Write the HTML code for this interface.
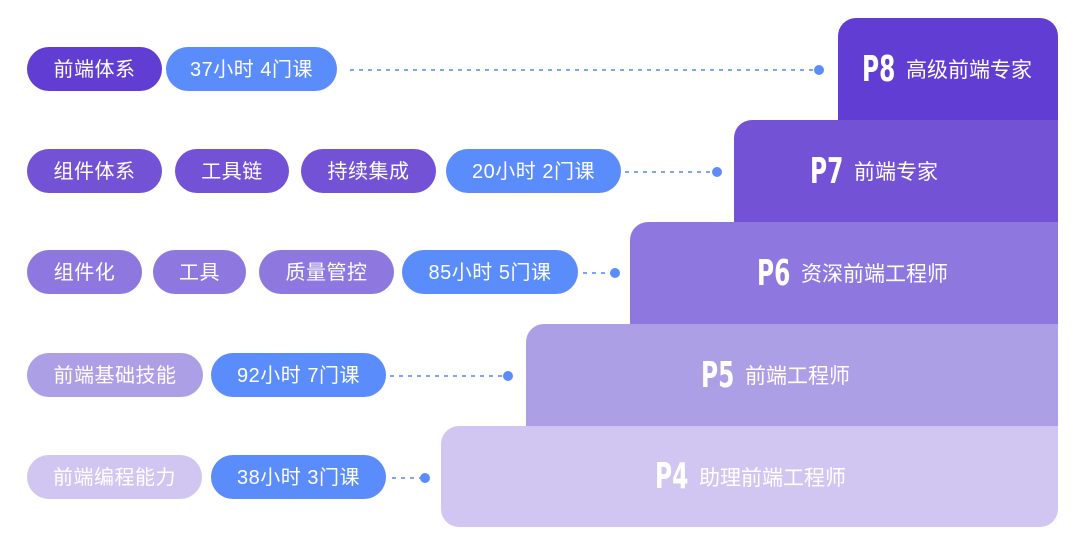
<!DOCTYPE html>
<html><head><meta charset="utf-8"><style>
body{margin:0;width:1080px;height:553px;background:#fff;position:relative;overflow:hidden;font-family:"Liberation Sans","Noto Sans CJK SC",sans-serif}
.p{position:absolute;height:44px;border-radius:22px;color:#fff;font-size:20px;display:flex;align-items:center;justify-content:center;letter-spacing:0.5px;padding-bottom:4px;box-sizing:border-box}
.b{background:#5b8cfb}
.l{position:absolute;height:2px;margin-top:-1px;background:repeating-linear-gradient(90deg,#7fa3f7 0 4px,transparent 4px 9px)}
.d{position:absolute;width:10px;height:10px;border-radius:50%;background:#5b8cfb}
.s{position:absolute;right:22px;border-radius:18px 0 0 0;color:#fff;font-size:21px;display:flex;align-items:center;justify-content:flex-start;box-sizing:border-box}
.s b{font-family:"Liberation Sans Narrow","DejaVu Sans Condensed",sans-serif;font-size:36px;transform:scaleX(.72);transform-origin:left center;display:inline-block;width:32px;margin-right:12px}
</style></head><body>
<div class="s" style="left:441px;top:426px;height:101px;background:#d1c6f1;border-radius:18px 0 18px 18px;padding-left:214px"><b>P4</b>助理前端工程师</div>
<div class="s" style="left:526px;top:324px;height:102px;background:#ad9fe6;padding-left:175px"><b>P5</b>前端工程师</div>
<div class="s" style="left:630px;top:222px;height:102px;background:#8e78e0;padding-left:127px"><b>P6</b>资深前端工程师</div>
<div class="s" style="left:734px;top:120px;height:102px;background:#7352d6;padding-left:76px"><b>P7</b>前端专家</div>
<div class="s" style="left:838px;top:18px;height:102px;background:#613dd3;border-radius:18px 18px 0 0;padding-left:24px"><b>P8</b>高级前端专家</div>

<div class="p" style="left:27px;top:47px;width:135px;background:#613dd3">前端体系</div>
<div class="p b" style="left:166px;top:47px;width:171px">37小时 4门课</div>
<div class="l" style="left:350px;top:70px;width:465px"></div><div class="d" style="left:814px;top:65px"></div>

<div class="p" style="left:27px;top:149px;width:135px;background:#7352d6">组件体系</div>
<div class="p" style="left:175px;top:149px;width:114px;background:#7352d6">工具链</div>
<div class="p" style="left:301px;top:149px;width:135px;background:#7352d6">持续集成</div>
<div class="p b" style="left:446px;top:149px;width:175px">20小时 2门课</div>
<div class="l" style="left:625px;top:172px;width:88px"></div><div class="d" style="left:712px;top:167px"></div>

<div class="p" style="left:27px;top:250px;width:115px;background:#8e78e0">组件化</div>
<div class="p" style="left:153px;top:250px;width:93px;background:#8e78e0">工具</div>
<div class="p" style="left:259px;top:250px;width:135px;background:#8e78e0">质量管控</div>
<div class="p b" style="left:402px;top:250px;width:176px">85小时 5门课</div>
<div class="l" style="left:583px;top:273px;width:28px"></div><div class="d" style="left:610px;top:268px"></div>

<div class="p" style="left:27px;top:353px;width:176px;background:#ad9fe6">前端基础技能</div>
<div class="p b" style="left:211px;top:353px;width:175px">92小时 7门课</div>
<div class="l" style="left:390px;top:376px;width:114px"></div><div class="d" style="left:503px;top:371px"></div>

<div class="p" style="left:27px;top:455px;width:175px;background:#d1c6f1">前端编程能力</div>
<div class="p b" style="left:211px;top:455px;width:175px">38小时 3门课</div>
<div class="l" style="left:392px;top:478px;width:29px"></div><div class="d" style="left:420px;top:473px"></div>
</body></html>
